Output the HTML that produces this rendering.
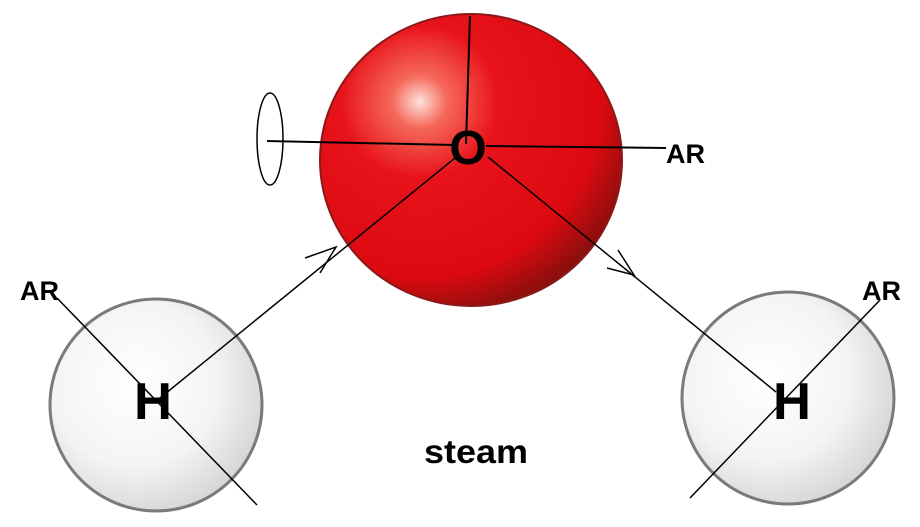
<!DOCTYPE html>
<html><head><style>
html,body{margin:0;padding:0;background:#fff;}
svg{display:block;}
text{font-family:"Liberation Sans",Arial,sans-serif;font-weight:bold;fill:#000;}
</style></head><body>
<svg width="920" height="527" viewBox="0 0 920 527" xmlns="http://www.w3.org/2000/svg">
<defs>
<radialGradient id="red" cx="0.33" cy="0.3" r="0.75">
<stop offset="0" stop-color="#fde2dc"/>
<stop offset="0.12" stop-color="#f5695a"/>
<stop offset="0.35" stop-color="#e8121a"/>
<stop offset="0.8" stop-color="#dc0a10"/>
<stop offset="1" stop-color="#8c0e0e"/>
</radialGradient>
<radialGradient id="wh" cx="0.4" cy="0.4" r="0.65">
<stop offset="0" stop-color="#ffffff"/>
<stop offset="0.6" stop-color="#f4f4f4"/>
<stop offset="1" stop-color="#d4d4d4"/>
</radialGradient>
</defs>
<ellipse cx="471" cy="160" rx="151" ry="146" fill="url(#red)" stroke="#8a1a1a" stroke-width="2"/>
<circle cx="156" cy="405" r="106" fill="url(#wh)" stroke="#7a7a7a" stroke-width="3"/>
<circle cx="788" cy="398" r="106" fill="url(#wh)" stroke="#7a7a7a" stroke-width="3"/>
<g stroke="#000" stroke-width="2" fill="none">
<line x1="470" y1="16" x2="466" y2="144"/>
<line x1="267" y1="141" x2="455" y2="145"/>
<line x1="486" y1="146" x2="666" y2="148"/>
<ellipse cx="270" cy="139" rx="13" ry="46" stroke-width="1.5"/>
<line x1="455" y1="158" x2="160" y2="398" stroke-width="1.5"/>
<polyline points="305,258 336,247 320,273" stroke-width="1.5"/>
<line x1="488" y1="157" x2="776" y2="392" stroke-width="1.5"/>
<polyline points="618,250 634,275 607,268" stroke-width="1.5"/>
<line x1="57" y1="298" x2="257" y2="505" stroke-width="1.5"/>
<line x1="880" y1="300" x2="690" y2="498" stroke-width="1.5"/>
</g>
<text x="468" y="164" font-size="48" text-anchor="middle">O</text>
<text x="666" y="163" font-size="27">AR</text>
<text x="20" y="300" font-size="27">AR</text>
<text x="862" y="300" font-size="27">AR</text>
<text x="153" y="419" font-size="52" text-anchor="middle" textLength="38" lengthAdjust="spacingAndGlyphs">H</text>
<text x="792" y="419" font-size="52" text-anchor="middle" textLength="38" lengthAdjust="spacingAndGlyphs">H</text>
<text x="476" y="463" font-size="33" text-anchor="middle" textLength="104" lengthAdjust="spacingAndGlyphs">steam</text>
</svg>
</body></html>
